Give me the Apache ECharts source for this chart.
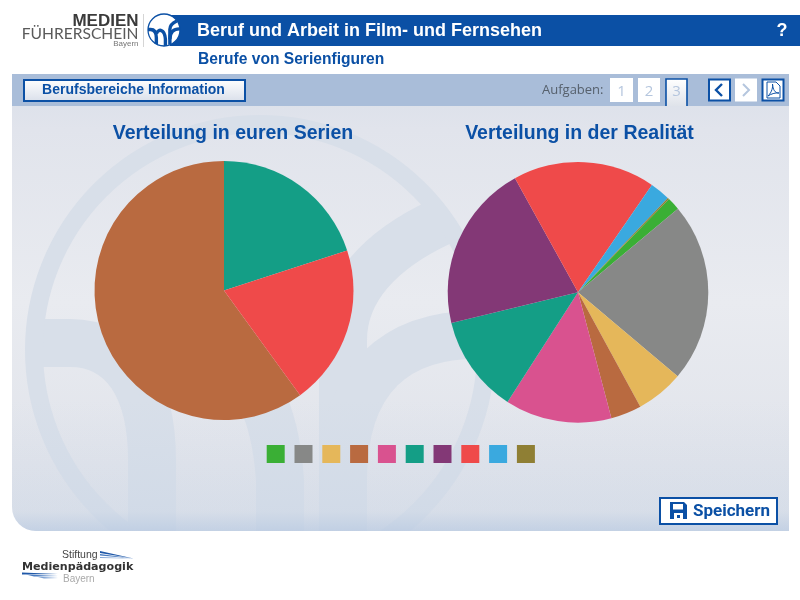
<!DOCTYPE html>
<html lang="de">
<head>
<meta charset="utf-8">
<title>Berufe von Serienfiguren</title>
<script src="https://cdn.jsdelivr.net/npm/echarts@6/dist/echarts.min.js"></script>
<style>
  html, body { margin: 0; padding: 0; background: #fff; }
  #chart { width: 800px; height: 600px; }
</style>
</head>
<body>
<div id="chart"></div>
<script>
// Occupational areas, in legend order
const categories = ['Bereich 1', 'Bereich 2', 'Bereich 3', 'Bereich 4', 'Bereich 5',
                    'Bereich 6', 'Bereich 7', 'Bereich 8', 'Bereich 9', 'Bereich 10'];
const palette = ['#3aaf35', '#878887', '#e5b75a', '#b96a40', '#d9528f',
                 '#149e86', '#833876', '#ef4a4a', '#3aa9df', '#8f7f34'];
// Share per area in percent
const seriesValues = [0, 0, 0, 60, 0, 20, 0, 20, 0, 0];
const realityValues = [1.6, 22.2, 5.9, 3.8, 13.2, 12.1, 20.7, 17.6, 2.5, 0.2];
const chartTitles = ['Verteilung in euren Serien', 'Verteilung in der Realität'];
const taskNumbers = ['1', '2', '3'];

const BLUE = '#0b50a5';
const SANS = '"Liberation Sans", Arial, sans-serif';

// The graphic component takes registered shape types, so each SVG path gets its own
let shapeCount = 0;
function pathType(pathData) {
  const name = 'uiPath' + (shapeCount++);
  echarts.graphic.registerShape(name, echarts.graphic.extendPath(pathData, {}));
  return name;
}

const vGrad = (stops) => ({
  type: 'linear', x: 0, y: 0, x2: 0, y2: 1,
  colorStops: stops.map(([offset, color]) => ({ offset, color }))
});
const rect = (x, y, width, height, fill, extra = {}) => ({
  type: 'rect', shape: { x, y, width, height, r: extra.r || 0 },
  style: { fill, stroke: extra.stroke || null, lineWidth: extra.lineWidth || 0 }, silent: true
});
const label = (text, x, y, font, fill, align = 'left') => ({
  type: 'text', x, y, silent: true,
  style: { text, font, fill, align, verticalAlign: 'middle' }
});
const stroke = (pathData, color, lineWidth) => ({
  type: pathType(pathData), silent: true,
  style: { fill: 'none', stroke: color, lineWidth }
});
const solid = (pathData, fill) => ({
  type: pathType(pathData), silent: true, style: { fill, stroke: null }
});

// Foundation emblem: ring with the interlaced arches of the "mf" monogram
function emblem(cx, cy, scale, color, disc) {
  const parts = [
    stroke('M 34 343 L 70 343 C 125 343 152 390 152 460 L 152 548', color, 48),
    stroke('M 152 400 C 180 330 270 330 280 480 L 280 575', color, 48),
    stroke('M 343 560 L 343 340 C 343 290 380 250 440 222', color, 48),
    stroke('M 343 480 C 343 380 395 330 490 335', color, 48),
    { type: 'circle', shape: { cx: 260, cy: 350, r: 226 }, silent: true,
      style: { fill: 'none', stroke: color, lineWidth: 18 } }
  ];
  if (disc) {
    parts.unshift({ type: 'circle', shape: { cx: 260, cy: 350, r: 226 }, silent: true, style: { fill: disc } });
  }
  return { type: 'group', x: cx - 260 * scale, y: cy - 350 * scale, scaleX: scale, scaleY: scale, children: parts };
}

const chrome = [
  // Content panel with the emblem as a backdrop
  rect(12, 74, 777, 457, vGrad([[0, '#d9dfe9'], [0.12, '#e1e4ec'], [0.5, '#e9ebf0'], [0.85, '#e1e4eb'], [1, '#dde2ea']]), { r: [0, 0, 0, 24] }),
  emblem(260, 350, 1, '#d8dfe9'),
  rect(0, 531, 800, 69, '#ffffff'),
  rect(0, 74, 12, 460, '#ffffff'),
  rect(12, 400, 777, 131, vGrad([[0, 'rgba(170,192,222,0)'], [0.85, 'rgba(170,192,222,0.14)'], [1, 'rgba(170,192,222,0.5)']]), { r: [0, 0, 0, 24] }),

  // Header
  rect(170, 15, 630, 31, BLUE),
  label('Beruf und Arbeit in Film- und Fernsehen', 197, 31, 'bold 18px ' + SANS, '#ffffff'),
  label('?', 782, 31, 'bold 18px ' + SANS, '#ffffff', 'center'),
  label('Berufe von Serienfiguren', 198, 60, 'bold 15.6px ' + SANS, BLUE),

  // Programme logo
  label('MEDIEN', 138.5, 21, 'bold 17px ' + SANS, '#3b3b3b', 'right'),
  label('FÜHRERSCHEIN', 138.5, 34, '15.6px Lato, ' + SANS, '#5a5a5a', 'right'),
  label('Bayern', 138.5, 44, '8px ' + SANS, '#777777', 'right'),
  rect(143, 14, 1, 33, '#d5d5d5'),
  emblem(164, 30, 0.0708, BLUE, '#ffffff'),

  // Toolbar
  rect(12, 74, 777, 32, '#a9bdd9'),
  rect(24, 80, 221, 21, vGrad([[0, '#ffffff'], [1, '#d9dfea']]), { stroke: BLUE, lineWidth: 2 }),
  label('Berufsbereiche Information', 133.5, 90.5, 'bold 14px ' + SANS, BLUE, 'center'),
  label('Aufgaben:', 542, 90, '13px "Open Sans", sans-serif', '#56606c'),
  rect(610, 78, 23, 24, '#ffffff'),
  rect(638, 78, 22, 24, '#ffffff'),
  rect(666, 79, 21, 27, vGrad([[0, '#ffffff'], [1, '#dfe3ea']])),
  stroke('M 666 106 L 666 79 L 687 79 L 687 106', BLUE, 1.6),
  label(taskNumbers[0], 621.5, 92, '15px "Open Sans", sans-serif', '#b5c6de', 'center'),
  label(taskNumbers[1], 649, 92, '15px "Open Sans", sans-serif', '#b5c6de', 'center'),
  label(taskNumbers[2], 676.5, 92, '15px "Open Sans", sans-serif', '#b5c6de', 'center'),
  rect(709, 79.5, 21, 21, '#ffffff', { stroke: BLUE, lineWidth: 2 }),
  stroke('M 722 84 L 716 90 L 722 96', BLUE, 2.4),
  rect(735, 78.5, 22, 23, '#ffffff'),
  stroke('M 743 84 L 749 90 L 743 96', '#b5c6de', 2),
  rect(762.5, 79.5, 21, 21, '#ffffff', { stroke: BLUE, lineWidth: 2 }),
  stroke('M 767 98 L 767 82 L 776 82 L 780 86 L 780 98 Z M 768 96 C 772 92 773 87 772.5 84 C 773 90 775 93 779 93 C 775 92.5 771 94 768 96', BLUE, 1),

  // Save button
  rect(660, 498, 117, 26, '#ffffff', { stroke: BLUE, lineWidth: 2 }),
  solid('M 670 502 L 684 502 L 687 505 L 687 519 L 670 519 Z', BLUE),
  rect(673, 504, 10, 5.5, '#ffffff'),
  rect(674, 513, 9, 6, '#ffffff'),
  rect(677, 515, 3, 3, BLUE),
  label('Speichern', 693, 512, 'bold 17px Roboto, ' + SANS, BLUE),

  // Foundation logo
  label('Stiftung', 62, 555, '10.5px ' + SANS, '#444444'),
  label('Medienpädagogik', 22, 567.5, 'bold 11.1px "DejaVu Sans", sans-serif', '#333333'),
  label('Bayern', 63, 579.5, '10px ' + SANS, '#a9a9a9'),
  solid('M 100 551 L 133.5 558.5 L 100 553 Z', '#1f58a8'),
  solid('M 100 554 L 133.5 558.5 L 100 555.5 Z', '#4a7cc0'),
  solid('M 100 557 L 133.5 558.5 L 100 558 Z', '#7ea2d4'),
  solid('M 22 572.5 L 58 574 L 22 574.5 Z', '#1f58a8'),
  solid('M 26 574.5 L 58 576 L 34 576.5 Z', '#4a7cc0'),
  solid('M 36 576.5 L 58 578 L 44 578.5 Z', '#7ea2d4')
];

const pieSeries = (name, values, center, radius, startAngle) => ({
  name, type: 'pie', center, radius, startAngle,
  silent: true, animation: false,
  label: { show: false }, labelLine: { show: false },
  emphasis: { disabled: true },
  data: categories.map((c, i) => ({ name: c, value: values[i] }))
});

const chart = echarts.init(document.getElementById('chart'), null, { width: 800, height: 600 });
chart.setOption({
  animation: false,
  color: palette,
  graphic: { elements: chrome },
  title: chartTitles.map((text, i) => ({
    text,
    left: i === 0 ? 228 : 574.5,
    top: 118,
    textAlign: 'center',
    textStyle: { fontFamily: SANS, fontWeight: 'bold', fontSize: 19.5, color: BLUE, lineHeight: 22 }
  })),
  legend: {
    data: categories,
    left: 266.7, top: 445,
    orient: 'horizontal',
    icon: 'rect',
    itemWidth: 18, itemHeight: 18, itemGap: 9.8,
    selectedMode: false,
    formatter: () => '',
    padding: 0
  },
  series: [
    pieSeries(chartTitles[0], seriesValues, [224, 290.5], 129.5, -54),
    pieSeries(chartTitles[1], realityValues, [578, 292.3], 130.3, 45.7)
  ]
});
</script>
</body>
</html>
